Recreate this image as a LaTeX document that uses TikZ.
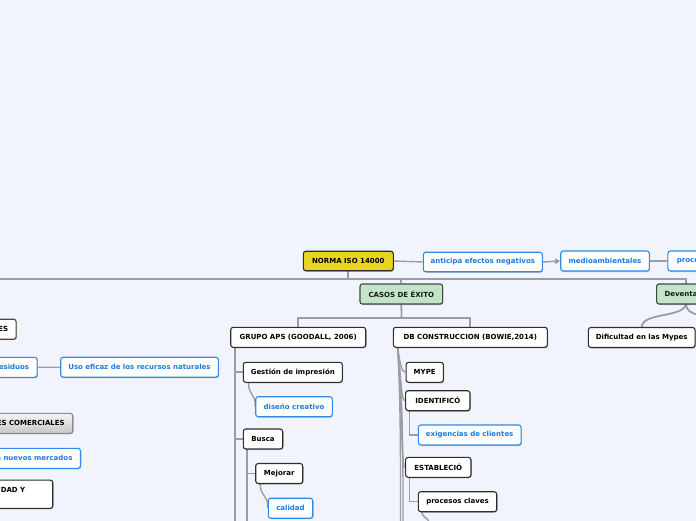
\documentclass[tikz,border=0pt]{standalone}
\usepackage{fontspec}
\setmainfont{DejaVu Sans}
\usetikzlibrary{shadows,arrows.meta,calc,backgrounds}
\definecolor{bg}{HTML}{F2F4FD}
\definecolor{conncol}{HTML}{9C9CA4}
\definecolor{dark}{HTML}{2E2E2E}
\definecolor{bborder}{HTML}{2F8BEA}
\definecolor{btext}{HTML}{1C7AE0}
\definecolor{yel}{HTML}{E6D522}
\definecolor{grn}{HTML}{C4E3C9}
\definecolor{grnb}{HTML}{3A4A3C}
\definecolor{brn}{HTML}{544536}
\tikzset{
  base/.style={rounded corners=2.5pt, line width=1.1pt, inner sep=0pt,
    minimum height=20pt, font=\fontsize{7}{8.4}\selectfont\bfseries,
    drop shadow={shadow xshift=0.8pt, shadow yshift=-1pt, fill=black, opacity=0.22}},
  box/.style={base, draw=dark, fill=white, text=black},
  bluebox/.style={base, draw=bborder, fill=white, text=btext},
  yelbox/.style={base, draw=dark, fill=yel, text=black},
  grnbox/.style={base, draw=grnb, fill=grn, text=black!90},
  graybox/.style={base, draw=black!45, top color=white!96!black, bottom color=black!22, text=black},
  cutleft/.style={anchor=east, text width=120pt, align=right, inner xsep=8pt},
  cutright/.style={anchor=west, text width=80pt, align=left, inner xsep=9pt},
  conn/.style={draw=conncol, line width=1.8pt},
  thin/.style={draw=conncol, line width=1.4pt},
}
\begin{document}
\begin{tikzpicture}[x=1pt,y=-1pt]
\useasboundingbox (0,0) rectangle (696,520);
\clip (0,0) rectangle (696,520);
\begin{scope}[on background layer]
\fill[bg] (-5,-5) rectangle (701,525);
\end{scope}

\coordinate (busL) at (-10,279);
\coordinate (busR) at (686,279);
\coordinate (devtop) at (686,285);
\coordinate (devbot) at (686,303);
\coordinate (devoff) at (720,324);
\coordinate (casbus) at (401.5,318);

% nodes
\node[yelbox, minimum width=90pt, minimum height=19.5pt] (norma) at (348.3,261) {NORMA ISO 14000};
\node[bluebox, minimum width=119pt, minimum height=19.5pt] (antic) at (482.8,262) {anticipa efectos negativos};
\node[bluebox, minimum width=88.6pt] (medio) at (605,261) {medioambientales};
\node[bluebox, cutright] (proce) at (667.3,261) {proce};

\node[grnbox, minimum width=82.7pt] (casos) at (401.3,294) {CASOS DE ÉXITO};
\node[grnbox, cutright, inner xsep=8pt] (devent) at (656,294) {Deventa};

\node[box, minimum width=135pt] (grupo) at (298.2,337.3) {GRUPO APS (GOODALL, 2006)};
\node[box, minimum width=154pt] (db) at (470.3,337.3) {DB CONSTRUCCION (BOWIE,2014)};
\node[box, minimum width=106.7pt] (dific) at (641.7,337.5) {Dificultad en las Mypes};

\node[box, minimum width=99pt] (gest) at (292.8,372.3) {Gestión de impresión};
\node[bluebox, minimum width=76.6pt] (disen) at (294,406.7) {diseño creativo};
\node[box, minimum width=39.4pt] (busca) at (263,439) {Busca};
\node[box, minimum width=47pt] (mejorar) at (279.2,473.5) {Mejorar};
\node[bluebox, minimum width=44.4pt] (calidad) at (290.5,508.2) {calidad};

\node[box, minimum width=37.3pt] (mype) at (424.7,372.3) {MYPE};
\node[box, minimum width=64.3pt] (ident) at (437.8,400.7) {IDENTIFICÓ};
\node[bluebox, minimum width=102.7pt] (exig) at (469.7,435) {exigencias de clientes};
\node[box, minimum width=65.3pt] (estab) at (438.3,467.3) {ESTABLECIÓ};
\node[box, minimum width=78.4pt] (procs) at (457.5,501.7) {procesos claves};

\node[box, draw=brn, cutleft] (es) at (16.7,329.2) {ES};
\node[bluebox, cutleft] (resid) at (37.7,367.3) {esiduos};
\node[bluebox, minimum width=157.6pt] (uso) at (139.5,367.2) {Uso eficaz de los recursos naturales};
\node[graybox, cutleft] (comerc) at (73.3,423.3) {ES COMERCIALES};
\node[bluebox, cutleft] (nuevos) at (81,458.3) {a nuevos mercados};
\node[box, anchor=east, minimum width=120pt, minimum height=28.3pt] (dady) at (53.3,494.2) {};
\node[anchor=east, inner sep=0pt, font=\fontsize{7}{8.4}\selectfont\bfseries, text=black] (dadyt) at (25.5,490) {DAD Y};

% free-end coordinates
\coordinate (gv) at (235,347);
\coordinate (gvend) at (235,525);
\coordinate (bv) at (247,449);
\coordinate (bvend) at (247,525);
\coordinate (dbo) at (397.5,347);
\coordinate (dbd1) at (400.5,525);
\coordinate (dbd2) at (403,525);
\coordinate (pcd) at (430,525);

\begin{scope}[on background layer]
% top row
\draw[thin] (norma.east) -- (antic.west);
\draw[thin, -{Triangle[length=5pt,width=5.5pt]}] (antic.east) -- (medio.west);
\draw[thin] (medio.east) -- (proce.west);
% bus
\draw[conn] (busL) -- (busR) -- (devtop);
\draw[conn] (norma.south) -- (norma.south |- busR);
\draw[conn] (casos.north) -- (casos.north |- busR);
% casos branches
\draw[conn] (casos.south) -- (casbus);
\draw[conn] (grupo.north) |- (casbus) -| (db.north);
% desventajas
\draw[conn] (devbot) .. controls (686,318) and (642,312) .. (dific.north);
\draw[conn] (devbot) .. controls (686,318) and (705,312) .. (devoff);
% grupo APS
\draw[conn] (gv) -- (gvend);
\draw[conn] (gest.west -| gv) -- (gest.west);
\draw[conn] (busca.west -| gv) -- (busca.west);
\draw[thin] ($(gest.south west)+(5.7,0)$) .. controls (249,397) and (256,393) .. (disen.west);
\draw[conn] (bv) -- (bvend);
\draw[conn] (mejorar.west -| bv) -- (mejorar.west);
\draw[thin] ($(mejorar.south west)+(5,0)$) .. controls (260.7,498) and (268.3,494) .. (calidad.west);
% DB construccion
\draw[thin] (dbo) .. controls (400,362) and (401,372.3) .. (mype.west);
\draw[thin] (dbo) .. controls (401,376) and (401,400.7) .. (ident.west);
\draw[thin] (dbo) .. controls (402,400) and (401,467.3) .. (estab.west);
\draw[thin] (dbo) .. controls (401,400) and (400.5,480) .. (dbd1);
\draw[thin] (dbo) .. controls (403.5,400) and (403,480) .. (dbd2);
\draw[thin] ($(ident.south west)+(4.5,0)$) |- (exig.west);
\draw[thin] ($(estab.south west)+(4.5,0)$) |- (procs.west);
\draw[thin] ($(procs.south west)+(4,0)$) .. controls (422.3,518) and (428,516) .. (pcd);
% left side
\draw[thin] (resid.east) -- (uso.west);
\end{scope}
\end{tikzpicture}
\end{document}
